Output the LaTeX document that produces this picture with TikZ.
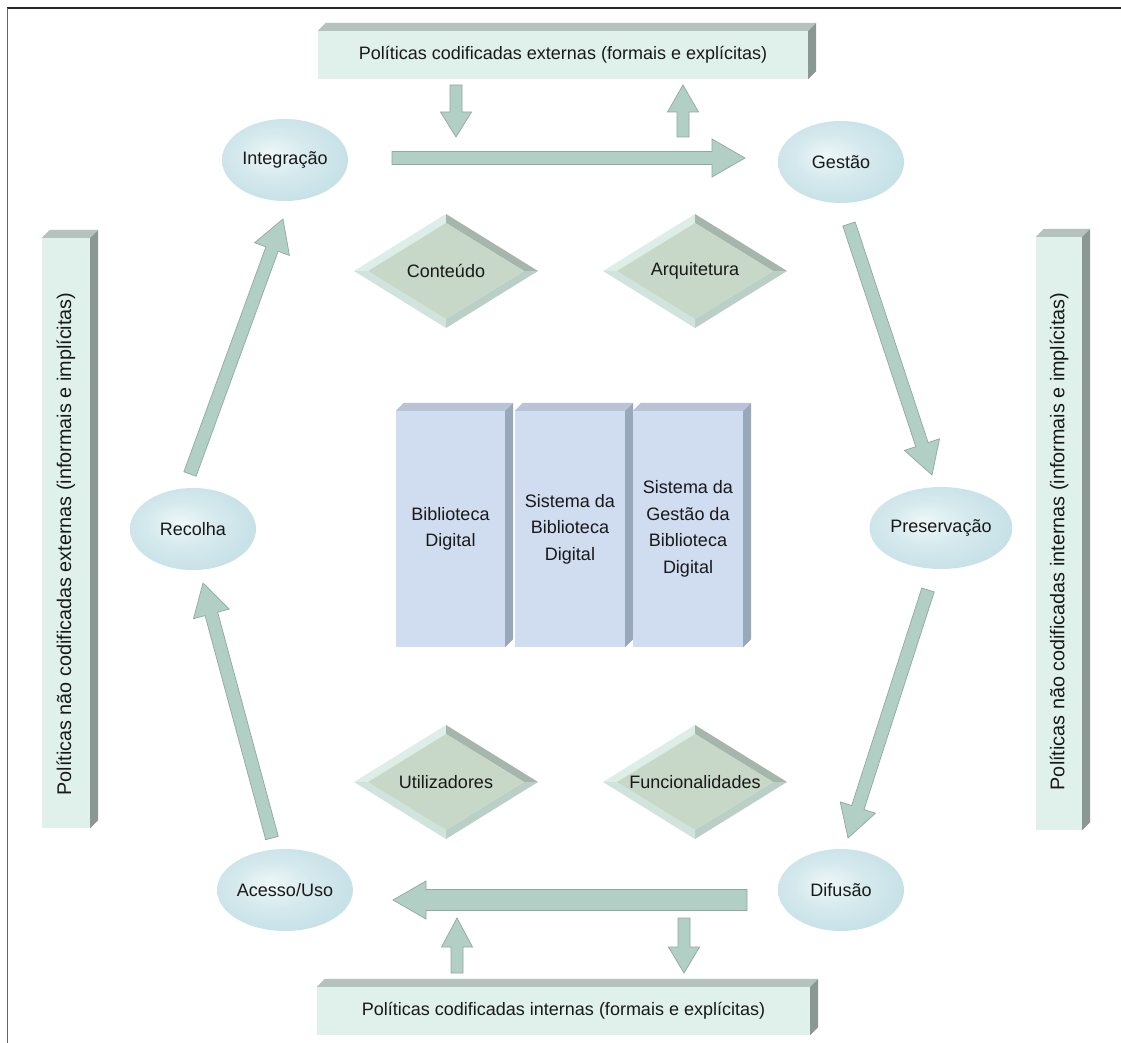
\documentclass[tikz,border=0pt]{standalone}
\usepackage{fontspec}
\setmainfont{Liberation Sans}
\usetikzlibrary{calc,shapes.geometric}

\definecolor{arrowfill}{HTML}{B2CFC6}
\definecolor{arrowedge}{HTML}{8FA8A0}
\definecolor{barfront}{HTML}{E0F1EC}
\definecolor{bartop}{HTML}{B4C3BE}
\definecolor{barside}{HTML}{8A9793}
\definecolor{blockfront}{HTML}{D0DCEF}
\definecolor{blocktop}{HTML}{B8C4D5}
\definecolor{blockside}{HTML}{98A7BA}
\definecolor{ellout}{HTML}{BDDCE3}
\definecolor{ellin}{HTML}{EEF7F8}
\colorlet{ellmid}{ellin!50!ellout}
\definecolor{dface}{HTML}{C7D7C8}
\definecolor{dtl}{HTML}{DDEEE9}
\definecolor{dbl}{HTML}{D0E4DD}
\definecolor{dtr}{HTML}{A5B6AC}
\definecolor{dbr}{HTML}{BACFC6}

\pgfdeclareradialshading{ellshade}{\pgfpoint{-6bp}{4bp}}{color(0bp)=(ellin); color(14bp)=(ellmid); color(36bp)=(ellout); color(50bp)=(ellout)}

\newcommand{\boxfaces}[4]{%
  \fill[#3] (#1.north west) -- ++(#2,-#2) -- ($(#1.north east)+(#2,-#2)$) -- (#1.north east) -- cycle;
  \fill[#4] (#1.north east) -- ++(#2,-#2) -- ($(#1.south east)+(#2,-#2)$) -- (#1.south east) -- cycle;}

\newcommand{\beveldiamond}[4]{%
  \coordinate (#1c) at (#2,#3);
  \fill[dtl] ($(#1c)+(-92,0)$) -- ($(#1c)+(0,-57)$) -- ($(#1c)+(0,-48)$) -- ($(#1c)+(-78,0)$) -- cycle;
  \fill[dtr] ($(#1c)+(0,-57)$) -- ($(#1c)+(92,0)$) -- ($(#1c)+(78,0)$) -- ($(#1c)+(0,-48)$) -- cycle;
  \fill[dbr] ($(#1c)+(92,0)$) -- ($(#1c)+(0,57)$) -- ($(#1c)+(0,48)$) -- ($(#1c)+(78,0)$) -- cycle;
  \fill[dbl] ($(#1c)+(0,57)$) -- ($(#1c)+(-92,0)$) -- ($(#1c)+(-78,0)$) -- ($(#1c)+(0,48)$) -- cycle;
  \fill[dface] ($(#1c)+(-78,0)$) -- ($(#1c)+(0,-48)$) -- ($(#1c)+(78,0)$) -- ($(#1c)+(0,48)$) -- cycle;
  \node[txt] (#1) at (#1c) {#4};}

% block arrow: start, tip, shaft half-width, head half-width, head length
\newcommand{\blockarrow}[5]{%
  \path ($(#2)!#5!(#1)$) coordinate (#1base);
  \filldraw[barrowstyle] ($(#1)!#3!90:(#2)$) -- ($(#1base)!#3!90:(#2)$) -- ($(#1base)!#4!90:(#2)$) -- (#2)
     -- ($(#1base)!#4!-90:(#2)$) -- ($(#1base)!#3!-90:(#2)$) -- ($(#1)!#3!-90:(#2)$) -- cycle;}

\begin{document}
\begin{tikzpicture}[x=1pt,y=-1pt,
  txt/.style={font=\fontsize{18}{26.5}\selectfont, text=black!90},
  sidetxt/.style={font=\fontsize{19.8}{24}\selectfont, text=black!90, rotate=90},
  barnode/.style={txt, rectangle, fill=barfront, inner sep=0pt},
  blocknode/.style={txt, rectangle, fill=blockfront, inner sep=0pt, align=center},
  ellnode/.style={txt, ellipse, shade, shading=ellshade, minimum width=126pt, minimum height=82pt, inner sep=0pt},
  barrowstyle/.style={fill=arrowfill, draw=arrowedge, line width=0.7pt, line join=miter}]
\useasboundingbox (0,0) rectangle (1121,1043);
\fill[white] (0,0) rectangle (1121,1043);

% frame
\draw[line width=1.6pt, black!85] (6.7,8) -- (1121,8);
\draw[line width=1.6pt, black!60] (7.5,8) -- (7.5,1043);

% policy bars
\node[barnode, minimum width=490pt, minimum height=48pt] (pce) at (563,55) {Políticas codificadas externas (formais e explícitas)};
\boxfaces{pce}{8}{bartop}{barside}
\node[barnode, minimum width=493pt, minimum height=48pt] (pci) at (563.5,1011) {Políticas codificadas internas (formais e explícitas)};
\boxfaces{pci}{8}{bartop}{barside}
\node[barnode, minimum width=48pt, minimum height=590pt] (pnce) at (66,533) {};
\boxfaces{pnce}{8}{bartop}{barside}
\node[sidetxt] (pncetxt) at ($(pnce.center)+(0,11)$) {Políticas não codificadas externas (informais e implícitas)};
\node[barnode, minimum width=46pt, minimum height=593pt] (pnci) at (1059,533.5) {};
\boxfaces{pnci}{8}{bartop}{barside}
\node[sidetxt] (pncitxt) at ($(pnci.center)+(0,8)$) {Políticas não codificadas internas (informais e implícitas)};

% central blocks
\node[blocknode, minimum width=109pt, minimum height=236pt] (bd) at (450.5,529) {Biblioteca\\Digital};
\boxfaces{bd}{8}{blocktop}{blockside}
\node[blocknode, minimum width=110pt, minimum height=236pt] (sbd) at (570,529) {Sistema da\\Biblioteca\\Digital};
\boxfaces{sbd}{8}{blocktop}{blockside}
\node[blocknode, minimum width=110pt, minimum height=236pt] (sgbd) at (688,529) {Sistema da\\Gestão da\\Biblioteca\\Digital};
\boxfaces{sgbd}{8}{blocktop}{blockside}

% diamonds
\beveldiamond{cont}{446}{271}{Conteúdo}
\beveldiamond{arq}{695}{271}{Arquitetura}
\beveldiamond{util}{446}{782}{Utilizadores}
\beveldiamond{func}{695}{782}{Funcionalidades}

% ellipses
\node[ellnode] (integ) at (285,160) {Integração};
\node[ellnode] (gest) at (841,162) {Gestão};
\node[ellnode] (recol) at (193,529) {Recolha};
\node[ellnode] (pres) at (941,528) {Preservação};
\node[ellnode] (acesso) at (285,890) {Acesso/Uso};
\node[ellnode] (difus) at (841,890) {Difusão};

% arrow end coordinates
\coordinate (igS) at (392,158);   \coordinate (igE) at (745,158);
\coordinate (gpS) at (849,224);   \coordinate (gpE) at (932,475);
\coordinate (pdS) at (928,590);   \coordinate (pdE) at (848,838);
\coordinate (daS) at (747,900);   \coordinate (daE) at (393,900);
\coordinate (arS) at (272,838);   \coordinate (arE) at (203,583);
\coordinate (riS) at (190,474);   \coordinate (riE) at (283,219);
\coordinate (xdS) at (456,85);    \coordinate (xdE) at (456,137);
\coordinate (xuS) at (683,137);   \coordinate (xuE) at (683,85);
\coordinate (iuS) at (457,973);   \coordinate (iuE) at (457,918);
\coordinate (idS) at (684,918);   \coordinate (idE) at (684,973);

\blockarrow{igS}{igE}{6.5pt}{19pt}{33pt}
\blockarrow{gpS}{gpE}{6.5pt}{18.5pt}{32pt}
\blockarrow{pdS}{pdE}{6.5pt}{18.5pt}{32pt}
\blockarrow{daS}{daE}{10.5pt}{19pt}{33pt}
\blockarrow{arS}{arE}{6.5pt}{18.5pt}{32pt}
\blockarrow{riS}{riE}{6.5pt}{18.5pt}{32pt}
\blockarrow{xdS}{xdE}{6pt}{15.5pt}{25pt}
\blockarrow{xuS}{xuE}{6pt}{15.5pt}{27pt}
\blockarrow{iuS}{iuE}{6pt}{15.5pt}{29pt}
\blockarrow{idS}{idE}{6pt}{15.5pt}{26pt}
\end{tikzpicture}
\end{document}
